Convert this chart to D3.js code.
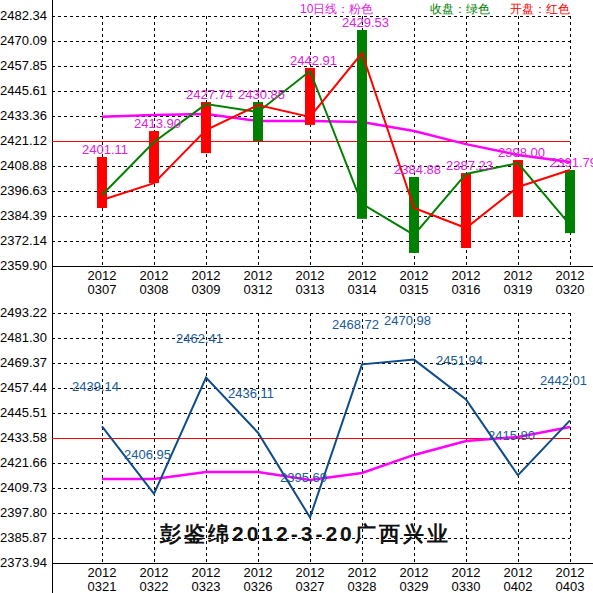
<!DOCTYPE html>
<html><head><meta charset="utf-8">
<script src="https://cdn.jsdelivr.net/npm/d3@7"></script>
<style>body{margin:0;background:#fff}svg{display:block}text{font-family:"Liberation Sans",sans-serif}line{shape-rendering:crispEdges}</style>
</head><body><svg width="593" height="593"></svg>
<script>
const topDates=["0307","0308","0309","0312","0313","0314","0315","0316","0319","0320"];
const topBarHigh=[2413.3,2426.0,2440.2,2440.2,2456.9,2475.5,2403.5,2405.4,2411.8,2406.9];
const topBarLow=[2388.3,2400.5,2415.2,2421.1,2429.0,2383.0,2366.3,2368.7,2383.9,2376.0];
const topBarColor=["red","red","red","green","red","green","green","red","red","green"];
const topOpen=[2392.2,2400.5,2426.5,2438.7,2432.9,2464.2,2388.3,2378.5,2398.6,2406.9];
const topClose=[2394.7,2420.6,2439.2,2435.3,2455.4,2390.3,2375.1,2405.0,2410.3,2380.0];
const topMA=[2433.0,2433.8,2434.3,2430.9,2430.9,2430.4,2426.0,2419.6,2414.3,2410.8];
const topLabels=["2401.11","2413.90","2427.74","2430.85","2442.91","2429.53","2384.88","2387.23","2398.00","2391.79"];
const topTicks=[2482.34,2470.09,2457.85,2445.61,2433.36,2421.12,2408.88,2396.63,2384.39,2372.14,2359.90];
const topRef=2421.12;
const botDates=["0321","0322","0323","0326","0327","0328","0329","0330","0402","0403"];
const botValues=[2439.14,2406.95,2462.41,2436.11,2395.69,2468.72,2470.98,2451.94,2415.80,2442.01];
const botMA=[2414.0,2414.0,2417.4,2417.4,2413.5,2416.9,2425.5,2432.1,2434.1,2438.8];
const botTicks=[2493.22,2481.30,2469.37,2457.44,2445.51,2433.58,2421.66,2409.73,2397.80,2385.87,2373.94];
const botRef=2433.58;

const svg=d3.select("svg");
const L=52,R=570;
function panel(dates,ticks,y0,y1,dom){
  const x=d3.scalePoint().domain(dates).range([102,R]);
  const y=d3.scaleLinear().domain(dom).range([y1,y0]);
  const g=svg.append("g");
  ticks.forEach(t=>{
    g.append("line").attr("x1",L).attr("x2",R).attr("y1",Math.round(y(t))).attr("y2",Math.round(y(t))).attr("stroke","#000").attr("stroke-dasharray","3,3");
    g.append("text").attr("x",0).attr("y",y(t)+4).attr("font-size",13).text(t.toFixed(2));
  });
  dates.forEach(d=>{
    g.append("line").attr("x1",x(d)).attr("x2",x(d)).attr("y1",y0).attr("y2",y1).attr("stroke","#000").attr("stroke-dasharray","3,3");
    g.append("text").attr("x",x(d)).attr("y",y1+14).attr("text-anchor","middle").attr("font-size",13).text("2012");
    g.append("text").attr("x",x(d)).attr("y",y1+28).attr("text-anchor","middle").attr("font-size",13).text(d);
  });
  g.append("line").attr("x1",L).attr("x2",593).attr("y1",y1).attr("y2",y1).attr("stroke","#000");
  return {x,y,g};
}
svg.append("line").attr("x1",L).attr("x2",L).attr("y1",0).attr("y2",593).attr("stroke","#000");

const mk=(arr,xs,ys)=>d3.line().x((d,i)=>xs(arr[i])).y(d=>ys(d));
const T=panel(topDates,topTicks,16,266,[2359.90,2482.34]);
T.g.append("line").attr("x1",L).attr("x2",R).attr("y1",Math.round(T.y(topRef))).attr("y2",Math.round(T.y(topRef))).attr("stroke","red");
T.g.append("path").attr("d",mk(topDates,T.x,T.y)(topMA)).attr("fill","none").attr("stroke","#ff00ff").attr("stroke-width",2.5);
topDates.forEach((d,i)=>{
  T.g.append("rect").attr("x",T.x(d)-5).attr("width",10).attr("y",T.y(topBarHigh[i])).attr("height",T.y(topBarLow[i])-T.y(topBarHigh[i]))
   .attr("fill",topBarColor[i]==="red"?"#ff0000":"#008000");
});
T.g.append("path").attr("d",mk(topDates,T.x,T.y)(topClose)).attr("fill","none").attr("stroke","#008000").attr("stroke-width",2);
T.g.append("path").attr("d",mk(topDates,T.x,T.y)(topOpen)).attr("fill","none").attr("stroke","#ff0000").attr("stroke-width",2);
topDates.forEach((d,i)=>{
  T.g.append("text").attr("x",T.x(d)-20).attr("y",T.y(topBarHigh[i])-3).attr("font-size",13).attr("fill","#e020e0").text(topLabels[i]);
});
svg.append("text").attr("x",300).attr("y",13).attr("font-size",12).attr("fill","#e020e0").attr("font-family","Noto Sans CJK SC").text("10日线：粉色");
svg.append("text").attr("x",430).attr("y",13).attr("font-size",12).attr("fill","#008000").attr("font-family","Noto Sans CJK SC").text("收盘：绿色");
svg.append("text").attr("x",510).attr("y",13).attr("font-size",12).attr("fill","#ff0000").attr("font-family","Noto Sans CJK SC").text("开盘：红色");

const B=panel(botDates,botTicks,313,563,[2373.94,2493.22]);
B.g.append("line").attr("x1",L).attr("x2",R).attr("y1",Math.round(B.y(botRef))).attr("y2",Math.round(B.y(botRef))).attr("stroke","red");
B.g.append("path").attr("d",mk(botDates,B.x,B.y)(botMA)).attr("fill","none").attr("stroke","#ff00ff").attr("stroke-width",2.5);
B.g.append("path").attr("d",mk(botDates,B.x,B.y)(botValues)).attr("fill","none").attr("stroke","#0f4c8a").attr("stroke-width",2);
botDates.forEach((d,i)=>{
  B.g.append("text").attr("x",B.x(d)-30).attr("y",B.y(botValues[i])-35).attr("font-size",13).attr("fill","#1a5a96").text(botValues[i].toFixed(2));
});
svg.append("text").attr("x",160).attr("y",541).attr("font-size",21).attr("font-weight","bold").attr("letter-spacing",3).attr("font-family","Noto Sans CJK SC").attr("fill","#111").text("彭鉴绵2012-3-20广西兴业");
</script></body></html>
